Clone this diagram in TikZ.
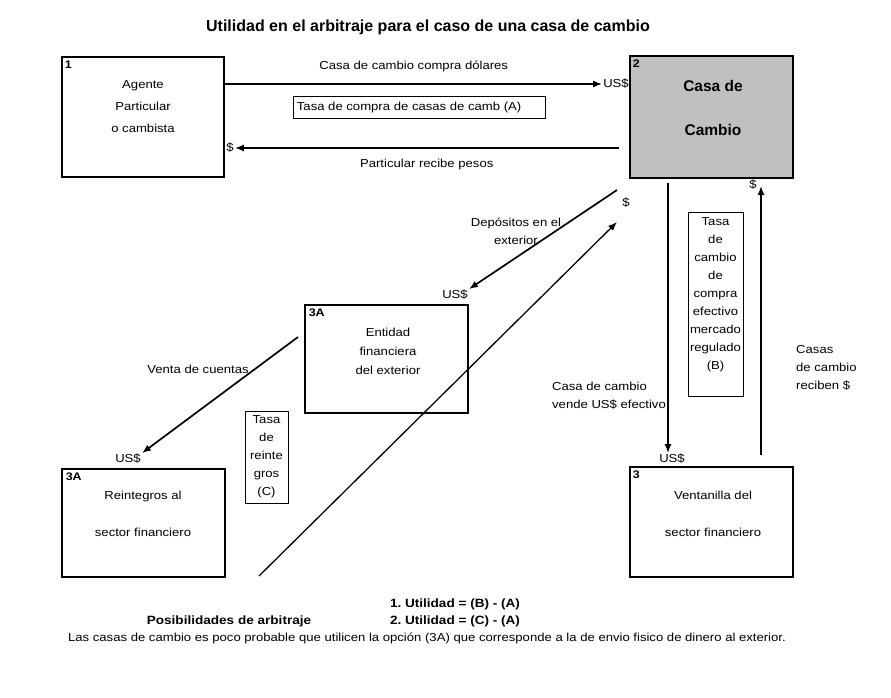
\documentclass[tikz,border=0pt]{standalone}
\usepackage{fontspec}
\setmainfont[FakeStretch=1.13]{Liberation Sans}
\newfontfamily\headfont{Liberation Sans}
\usetikzlibrary{arrows,arrows.meta,positioning}
\definecolor{casagray}{RGB}{192,192,192}
\frenchspacing
\tikzset{
  entity/.style={draw, line width=2.8pt, minimum width=163pt, inner sep=0pt},
  ratebox/.style={draw, line width=0.6pt, inner sep=0pt},
  flow/.style={-{Latex[length=9pt,width=7pt]}, line width=1.7pt},
  txt/.style={font=\fontsize{11.6}{18}\selectfont, inner sep=1pt},
  btxt/.style={font=\bfseries\fontsize{12}{17}\selectfont, inner sep=1pt},
  num/.style={font=\bfseries\fontsize{11}{12}\selectfont, anchor=north west, inner sep=0pt},
}

\begin{document}
\begin{tikzpicture}[x=1pt,y=-1pt]
    \useasboundingbox (0,0) rectangle (891,697);

    % Title
    \node[inner sep=1pt, font=\headfont\bfseries\fontsize{16}{18}\selectfont] (title) at (428,27) {Utilidad en el arbitraje para el caso de una casa de cambio};

    % Define the boxes
    \node[entity, minimum width=162pt, minimum height=120pt] (agente) at (143,117) {};
    \node[entity, fill=casagray, minimum height=122pt] (casa) at (711.5,117) {};
    \node[entity, minimum height=108pt] (exterior) at (386.5,359) {};
    \node[entity, minimum height=108pt] (reintegros) at (143.5,523) {};
    \node[entity, minimum height=110pt] (ventanilla) at (711.5,522) {};

    % Numbers of the boxes
    \node[num] at ([shift={(4pt,-5pt)}]agente.north west) {1};
    \node[num] at ([shift={(4pt,-5pt)}]casa.north west) {2};
    \node[num] at ([shift={(5pt,-5pt)}]exterior.north west) {3A};
    \node[num] at ([shift={(5pt,-5pt)}]reintegros.north west) {3A};
    \node[num] at ([shift={(4pt,-5pt)}]ventanilla.north west) {3};

    % Texts of the boxes
    \node[txt, align=center, font=\fontsize{11.6}{22}\selectfont] (agentetxt) at (143,107) {Agente\\Particular\\o cambista};
    \node[inner sep=1pt, align=center, font=\headfont\bfseries\fontsize{15.5}{44}\selectfont] (casatxt) at (713,108) {Casa de\\Cambio};
    \node[txt, align=center, font=\fontsize{11.6}{19}\selectfont] (exteriortxt) at (388,351) {Entidad\\financiera\\del exterior};
    \node[txt, align=center, font=\fontsize{11.6}{37}\selectfont] (reintegrostxt) at (143,513.5) {Reintegros al\\sector financiero};
    \node[txt, align=center, font=\fontsize{11.6}{37}\selectfont] (ventanillatxt) at (713,513.5) {Ventanilla del\\sector financiero};

    % Rate boxes
    \node[ratebox, minimum width=252pt, minimum height=22pt] (tasaA) at (419,107) {};
    \node[txt, anchor=west] at ([xshift=3pt]tasaA.west) {Tasa de compra de casas de camb (A)};
    \node[ratebox, minimum width=55pt, minimum height=184pt] (tasaB) at (715.5,304) {};
    \node[txt, align=center, anchor=north] at ([yshift=-5pt]tasaB.north) {Tasa\\de\\cambio\\de\\compra\\efectivo\\mercado\\regulado\\(B)};
    \node[ratebox, minimum width=43pt, minimum height=92pt] (tasaC) at (266.5,457) {};
    \node[txt, align=center] at (tasaC) {Tasa\\de\\reinte\\gros\\(C)};

    % Currency labels
    \node[txt] (usdA) at (616,84) {US\$};
    \node[txt] (pesoA) at (230,148) {\$};
    \node[txt] (usdB) at (455,295) {US\$};
    \node[txt] (pesoB) at (626,203) {\$};
    \node[txt] (usdC) at (128,459) {US\$};
    \node[txt] (usdD) at (672,459) {US\$};
    \node[txt] (pesoD) at (753,185) {\$};

    % Free ends of the connectors
    \coordinate (dep1) at (617,190);
    \coordinate (ret1) at (259,576);
    \coordinate (ret2) at (617,222);
    \coordinate (venta1) at (298,337);
    \coordinate (vende1) at (668,183);
    \coordinate (recibe1) at (761,455);

    % Draw the connectors
    \draw[flow] (agente.east |- usdA) -- node[txt, above=10pt] {Casa de cambio compra dólares} (usdA.west);
    \draw[flow] ([xshift=-10pt]casa.west |- pesoA) -- node[txt, below=9pt] {Particular recibe pesos} (pesoA.east);
    \draw[flow] (dep1) -- (usdB.north east);
    \draw[flow, line width=1.3pt] (ret1) -- (ret2);
    \draw[flow] (venta1) -- (usdC.north east);
    \draw[flow] (vende1) -- (vende1 |- usdD.north);
    \draw[flow] (recibe1) -- ([yshift=5pt]recibe1 |- pesoD.south);

    % Labels of the connectors
    \node[txt, align=center] (deptxt) at (516,231) {Depósitos en el\\exterior};
    \node[txt] (ventatxt) at (198,369) {Venta de cuentas};
    \node[txt, align=left] (vendetxt) at (609,396) {Casa de cambio\\vende US\$ efectivo};
    \node[txt, align=left, anchor=west] (recibetxt) at (795,368) {Casas\\de cambio\\reciben \$};

    % Arbitrage notes
    \node[btxt, align=left] (util) at (455,612.5) {1. Utilidad = (B) - (A)\\2. Utilidad = (C) - (A)};
    \node[btxt] (posib) at (229,621) {Posibilidades de arbitraje};
    \node[txt] (nota) at (427,638) {Las casas de cambio es poco probable que utilicen la opción (3A) que corresponde a la de envio fisico de dinero al exterior.};
  \end{tikzpicture}
\end{document}
